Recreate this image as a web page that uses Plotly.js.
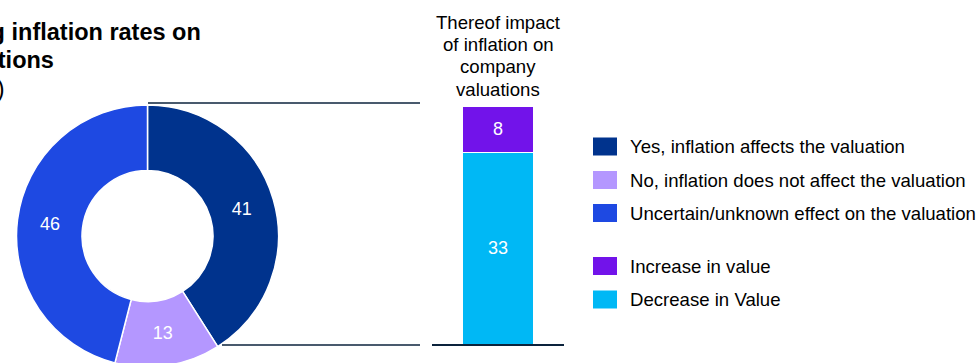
<!DOCTYPE html>
<html>
<head>
<meta charset="utf-8">
<script src="https://cdn.plot.ly/plotly-3.0.1.min.js"></script>
<style>
html,body{margin:0;padding:0;overflow:hidden;background:#fff;}
#chart{width:977px;height:380px;}
</style>
</head>
<body>
<div id="chart"></div>
<script>
// ---- data ----
const titleLines = ['Impact of rising inflation rates on', 'company valuations', '(all figures in %)'];
const pieLabels = ['Yes, inflation affects the valuation', 'No, inflation does not affect the valuation', 'Uncertain/unknown effect on the valuation'];
const pieValues = [41, 13, 46];
const barCategory = ['Thereof impact of inflation on company valuations'];
const barTitleLines = ['Thereof impact', 'of inflation on', 'company', 'valuations'];
const barLabels = ['Decrease in Value', 'Increase in value'];
const barValues = [33, 8];
const legendOrder = ['Yes, inflation affects the valuation', 'No, inflation does not affect the valuation', 'Uncertain/unknown effect on the valuation', 'Increase in value', 'Decrease in Value'];

// ---- styles ----
const pieColors = ['#00338D', '#B497FF', '#1E49E2'];
const barColors = ['#00B8F5', '#7213EA'];
const colorOf = {};
pieLabels.forEach((l, i) => colorOf[l] = pieColors[i]);
barLabels.forEach((l, i) => colorOf[l] = barColors[i]);
const FONT = 'Arial, "Liberation Sans", Helvetica, sans-serif';
const W = 977, H = 380;
const px = x => x / W;
const py = y => (H - y) / H;
const lineColor = '#0C233C';

const traces = [];
traces.push({
  type: 'pie', labels: pieLabels, values: pieValues, sort: false, direction: 'clockwise', rotation: 0,
  hole: 0.5, marker: {colors: pieColors, line: {color: '#ffffff', width: 1.5}},
  textinfo: 'value', textposition: 'inside', insidetextorientation: 'horizontal',
  textfont: {color: '#ffffff', size: 18, family: FONT},
  domain: {x: [px(16.5), px(278.5)], y: [py(367), py(105)]},
  showlegend: false, hoverinfo: 'label+value'
});
barLabels.forEach((lab, i) => {
  traces.push({
    type: 'bar', x: [0], y: [barValues[i]], name: lab, width: 0.545,
    marker: {color: barColors[i], line: {color: '#ffffff', width: 1}},
    text: [String(barValues[i])], textposition: 'inside', insidetextanchor: 'middle',
    textfont: {color: '#ffffff', size: 18, family: FONT},
    xaxis: 'x', yaxis: 'y', showlegend: false, hoverinfo: 'name+y'
  });
});

const annotations = [];
const titleRight = [203, 56, 6];
const titleBase = [40, 68, 97];
titleLines.forEach((t, i) => {
  annotations.push({
    xref: 'paper', yref: 'paper', x: px(titleRight[i]), y: py(titleBase[i] - 7.8),
    xanchor: 'right', yanchor: 'middle', showarrow: false,
    text: i < 2 ? '<b>' + t + '</b>' : t,
    font: {family: FONT, size: 23.5, color: '#000000'}
  });
});
const barTitleBase = [28.3, 50.5, 73, 95.5];
barTitleLines.forEach((t, i) => {
  annotations.push({
    xref: 'paper', yref: 'paper', x: px(498), y: py(barTitleBase[i] - 6.2),
    xanchor: 'center', yanchor: 'middle', showarrow: false, text: t,
    font: {family: FONT, size: 18.6, color: '#000000'}
  });
});
const legendY = [146.5, 180, 213, 266, 299.5];
const shapes = [];
legendOrder.forEach((lab, i) => {
  shapes.push({type: 'rect', xref: 'paper', yref: 'paper', x0: px(593), x1: px(617),
    y0: py(legendY[i] + 9), y1: py(legendY[i] - 9), fillcolor: colorOf[lab], line: {width: 0}});
  annotations.push({
    xref: 'paper', yref: 'paper', x: px(628), y: py(legendY[i]),
    xanchor: 'left', yanchor: 'middle', showarrow: false, text: lab,
    font: {family: FONT, size: 18.6, color: '#000000'}
  });
});
// connector lines
shapes.push({type: 'line', xref: 'paper', yref: 'paper', x0: px(148), x1: px(420), y0: py(103), y1: py(103), line: {color: lineColor, width: 1.5}});
shapes.push({type: 'line', xref: 'paper', yref: 'paper', x0: px(222), x1: px(420), y0: py(345), y1: py(345), line: {color: lineColor, width: 1.5}});

const layout = {
  width: W, height: H, margin: {l: 0, r: 0, t: 0, b: 0},
  paper_bgcolor: '#ffffff', plot_bgcolor: 'rgba(0,0,0,0)',
  barmode: 'stack', showlegend: false, font: {family: FONT},
  xaxis: {domain: [px(432), px(564)], range: [-0.5, 0.5], showgrid: false, zeroline: false,
    showticklabels: false, ticks: '', showline: true, linecolor: lineColor, linewidth: 1.5, fixedrange: true},
  yaxis: {domain: [py(344), py(106)], range: [0, 41], showgrid: false, zeroline: false,
    showticklabels: false, ticks: '', showline: false, fixedrange: true},
  annotations: annotations, shapes: shapes
};
Plotly.newPlot('chart', traces, layout, {displayModeBar: false, staticPlot: true});
</script>
</body>
</html>
